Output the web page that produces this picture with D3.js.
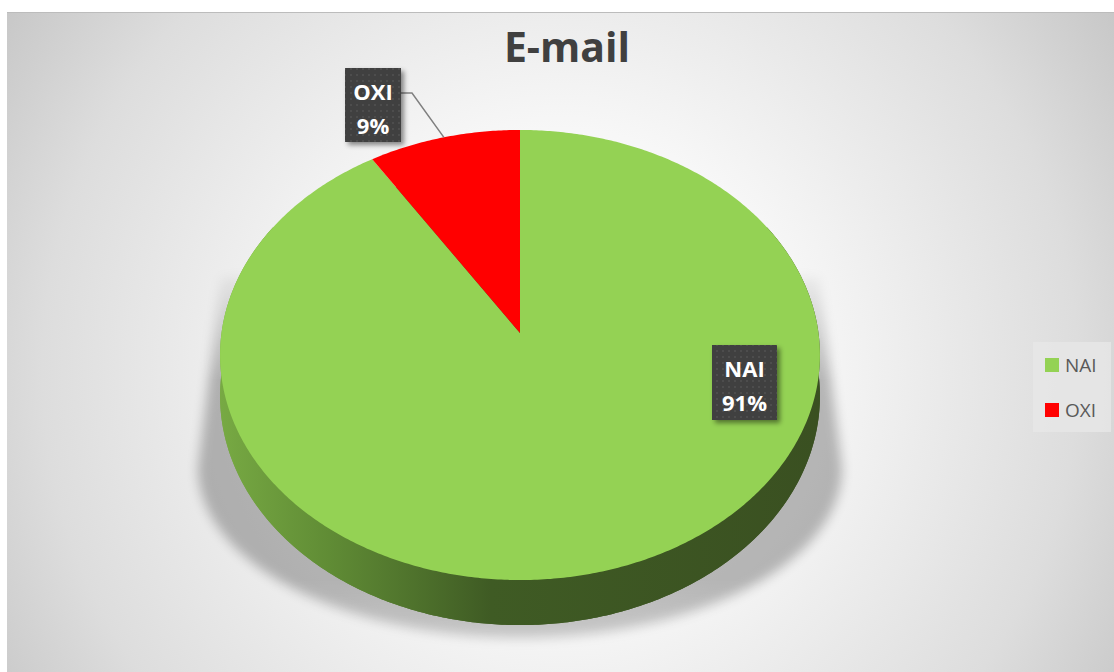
<!DOCTYPE html>
<html>
<head>
<meta charset="utf-8">
<script src="https://cdn.jsdelivr.net/npm/d3@7"></script>
<style>
  html, body { margin: 0; padding: 0; background: #ffffff; }
  svg { display: block; }
</style>
</head>
<body>
<div id="chart"></div>
<script>
// chart data
var TITLE = "E-mail";
var categories = ["NAI", "OXI"];
var values = [91, 9];
var pctLabels = ["91%", "9%"];

var W = 1114, H = 672;
var topColors = { "NAI": "#94d254", "OXI": "#ff0000" };

var svg = d3.select("#chart").append("svg")
    .attr("width", W).attr("height", H);
var defs = svg.append("defs");

// background gradient
var bg = defs.append("radialGradient").attr("id", "bgGrad")
    .attr("gradientUnits", "userSpaceOnUse")
    .attr("cx", 560).attr("cy", 370).attr("r", 690);
bg.append("stop").attr("offset", 0).attr("stop-color", "#ffffff");
bg.append("stop").attr("offset", 0.35).attr("stop-color", "#f7f7f7");
bg.append("stop").attr("offset", 0.75).attr("stop-color", "#dddddd");
bg.append("stop").attr("offset", 1).attr("stop-color", "#c3c3c3");

// side wall gradient (light left -> dark right)
var side = defs.append("linearGradient").attr("id", "sideGreen")
    .attr("gradientUnits", "userSpaceOnUse")
    .attr("x1", 221).attr("x2", 820).attr("y1", 0).attr("y2", 0);
side.append("stop").attr("offset", 0).attr("stop-color", "#77a943");
side.append("stop").attr("offset", 0.18).attr("stop-color", "#608c35");
side.append("stop").attr("offset", 0.45).attr("stop-color", "#3f5b24");
side.append("stop").attr("offset", 1).attr("stop-color", "#3a5021");
var sideR = defs.append("linearGradient").attr("id", "sideRed");
sideR.append("stop").attr("offset", 0).attr("stop-color", "#a00000");
sideR.append("stop").attr("offset", 1).attr("stop-color", "#600000");
var sideColors = { "NAI": "url(#sideGreen)", "OXI": "url(#sideRed)" };

var blur = defs.append("filter").attr("id", "shadowBlur")
    .attr("x", "-20%").attr("y", "-20%").attr("width", "140%").attr("height", "140%");
blur.append("feGaussianBlur").attr("stdDeviation", 6);

var boxShadow = defs.append("filter").attr("id", "boxShadow")
    .attr("x", "-30%").attr("y", "-30%").attr("width", "170%").attr("height", "170%");
boxShadow.append("feDropShadow").attr("dx", 3).attr("dy", 3).attr("stdDeviation", 2.5)
    .attr("flood-color", "#000").attr("flood-opacity", 0.45);

var pat = defs.append("pattern").attr("id", "dots")
    .attr("width", 6).attr("height", 6).attr("patternUnits", "userSpaceOnUse");
pat.append("rect").attr("width", 6).attr("height", 6).attr("fill", "#3f3f3f");
pat.append("rect").attr("x", 2).attr("y", 2).attr("width", 2).attr("height", 2).attr("fill", "#4e4e4e");

// shadow fades out towards the top and the bottom
var fadeMask = defs.append("linearGradient").attr("id", "fadeGrad")
    .attr("x1", 0).attr("x2", 0).attr("y1", 0).attr("y2", 1);
fadeMask.append("stop").attr("offset", 0).attr("stop-color", "#000");
fadeMask.append("stop").attr("offset", 0.3).attr("stop-color", "#fff");
fadeMask.append("stop").attr("offset", 0.8).attr("stop-color", "#fff");
fadeMask.append("stop").attr("offset", 1).attr("stop-color", "#999");
defs.append("mask").attr("id", "shadowMask")
    .attr("maskUnits", "userSpaceOnUse").attr("x", 0).attr("y", 0).attr("width", W).attr("height", H)
  .append("rect").attr("x", 0).attr("y", 260).attr("width", W).attr("height", 400)
    .attr("fill", "url(#fadeGrad)");

// chart area
svg.append("rect").attr("x", 7).attr("y", 12).attr("width", W - 7).attr("height", H - 12)
    .attr("fill", "url(#bgGrad)");
svg.append("line").attr("x1", 7).attr("x2", W).attr("y1", 12.5).attr("y2", 12.5)
    .attr("stroke", "#bcbcbc").attr("stroke-width", 1);

// title
svg.append("text").attr("x", 567).attr("y", 62)
    .attr("text-anchor", "middle")
    .style("font-family", "'Open Sans', sans-serif").style("font-weight", "bold")
    .style("font-size", "41px").attr("fill", "#404040")
    .text(TITLE);

// perspective projection of the pie disc
var cx = 520, cy = 333, R = 298.5, B = 222.9, k = 0.0978, DEPTH = 40.6;
function proj(theta, r, drop) {
    var u = r * Math.sin(theta), v = -r * Math.cos(theta);
    var s = 1 / (1 - k * v);
    return [cx + R * u * s, cy + B * v * s + (drop || 0) * s];
}
function arcPts(a0, a1, r, drop) {
    var n = Math.max(2, Math.ceil((a1 - a0) / 0.01));
    return d3.range(n + 1).map(function(i) { return proj(a0 + (a1 - a0) * i / n, r, drop); });
}
var line = d3.line();

var pie = d3.pie().sort(null).value(function(d) { return d.value; });
var data = categories.map(function(c, i) { return { name: c, value: values[i], pct: pctLabels[i] }; });
var arcs = pie(data);

// shadow cast behind the pie: slanted flanks and a wide lower half-ellipse
var sx = cx, sy = 468, srx = 322, sry = 170;
var rim = d3.range(0, 101).map(function(i) {
    var t = Math.PI * i / 100;
    return [sx + srx * Math.cos(t), sy + sry * Math.sin(t)];
});
var shadowPts = [[cx + R * 1.0, 275]].concat(rim).concat([[cx - R * 1.0, 275]]);
svg.append("g").attr("mask", "url(#shadowMask)")
  .append("path")
    .attr("d", line(shadowPts) + "Z")
    .attr("fill", "#000").attr("opacity", 0.26)
    .attr("filter", "url(#shadowBlur)");

// bottom face + side walls
svg.append("path")
    .attr("d", line(arcPts(0, 2 * Math.PI, 1, DEPTH)) + "Z")
    .attr("fill", "url(#sideGreen)");
var F0 = Math.PI / 3, F1 = 5 * Math.PI / 3;
arcs.forEach(function(a) {
    var a0 = Math.max(a.startAngle, F0), a1 = Math.min(a.endAngle, F1);
    if (a1 <= a0) return;
    var pts = arcPts(a0, a1, 1, 0).concat(arcPts(a0, a1, 1, DEPTH).reverse());
    svg.append("path").attr("d", line(pts) + "Z").attr("fill", sideColors[a.data.name]);
});

// top faces
svg.selectAll("path.slice").data(arcs).enter().append("path")
    .attr("class", "slice")
    .attr("d", function(a) { return line([proj(0, 0, 0)].concat(arcPts(a.startAngle, a.endAngle, 1, 0))) + "Z"; })
    .attr("fill", function(a) { return topColors[a.data.name]; });

// data labels
function labelBox(x, y, w, h, t1, t2) {
    var g = svg.append("g");
    g.append("rect").attr("x", x).attr("y", y).attr("width", w).attr("height", h)
        .attr("fill", "url(#dots)").attr("filter", "url(#boxShadow)");
    [t1, t2].forEach(function(t, i) {
        g.append("text").attr("x", x + w / 2).attr("y", y + 32 + i * 34)
            .attr("text-anchor", "middle")
            .style("font-family", "'Open Sans', sans-serif").style("font-weight", "bold")
            .style("font-size", "22px").attr("fill", "#ffffff")
            .text(t);
    });
}
var oxi = arcs[1], nai = arcs[0];
var tip = proj((oxi.startAngle + oxi.endAngle) / 2, 1, 0);
svg.append("path")
    .attr("d", line([[401, 93], [412, 93], tip]))
    .attr("fill", "none").attr("stroke", "#808080").attr("stroke-width", 1.5);
labelBox(345, 68, 56, 74, oxi.data.name, oxi.data.pct);
labelBox(712, 345, 65, 75, nai.data.name, nai.data.pct);

// legend
var lg = svg.append("g");
lg.append("rect").attr("x", 1033).attr("y", 342).attr("width", 78).attr("height", 90)
    .attr("fill", "#e6e6e6").attr("opacity", 0.85);
categories.forEach(function(c, i) {
    lg.append("rect").attr("x", 1045).attr("y", 358 + i * 45).attr("width", 14).attr("height", 14)
        .attr("fill", topColors[c]);
    lg.append("text").attr("x", 1065).attr("y", 372 + i * 45)
        .style("font-family", "'Open Sans', sans-serif").style("font-size", "19px")
        .attr("fill", "#595959").text(c);
});
</script>
</body>
</html>
